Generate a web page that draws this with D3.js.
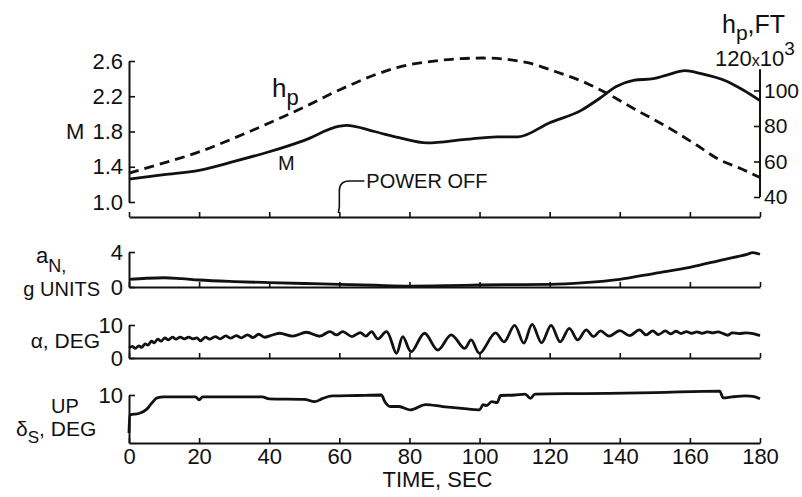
<!DOCTYPE html>
<html>
<head>
<meta charset="utf-8">
<script src="https://cdn.jsdelivr.net/npm/d3@7"></script>
<style>
  body { margin: 0; background: #fff; }
  text { font-family: "Liberation Sans", Arial, sans-serif; fill: #111; }
</style>
</head>
<body>
<div id="chart"></div>
<script>
// time axis, sec
const timeTicks = [0, 20, 40, 60, 80, 100, 120, 140, 160, 180];
const machTicks = [1.0, 1.4, 1.8, 2.2, 2.6];
const altTicks = [40, 60, 80, 100];

// [time, value]
const machData = [[0,1.26],[10,1.31],[20,1.36],[30,1.46],[40,1.57],[50,1.70],[60,1.86],[62,1.87],
  [70,1.80],[77,1.73],[85,1.67],[96,1.71],[105,1.74],[111,1.74],[120,1.90],[129,2.04],[134.4,2.18],
  [139,2.31],[143.9,2.38],[149.6,2.40],[153.4,2.44],[158.6,2.49],[162.9,2.46],[170.5,2.37],
  [175.2,2.27],[180,2.15]];

// hp, thousands of ft
const altData = [[0,53.5],[10,59.2],[20,65.4],[30,73.2],[40,81.7],[50,90.7],[60,100.3],[70,108.7],
  [77,113.2],[87,116.6],[101,118.3],[114,115.5],[122,110.4],[131,103.7],[136.3,98.4],[143.8,90.0],
  [153.4,79.6],[161.9,69.3],[168.6,60.8],[174.3,56.2],[180,51.0]];

const normalAccData = [[0,0.88],[5,1.0],[10,1.06],[15,0.95],[20,0.8],[30,0.62],[40,0.5],[50,0.4],
  [60,0.3],[70,0.2],[80,0.11],[90,0.15],[100,0.23],[110,0.27],[120,0.3],[130,0.5],[140,0.88],
  [150,1.57],[160,2.25],[170,3.17],[176,3.7],[178,3.92],[180,3.74]];

const alphaData = [[0,3.0],[1,3.5],[1.8,2.9],[2.8,3.7],[3.6,3.2],[4.6,4.3],[5.4,3.9],[6.4,5.1],[7.2,4.6],
  [8.2,5.7],[9.2,5.1],[10.2,6.1],[11.2,5.5],[12.4,6.3],[13.4,5.7],[14.6,6.3],[15.8,5.8],[17,6.3],
  [18.2,5.8],[19.4,6.1],[20.4,5.2],[21.8,6.3],[23,5.7],[24.6,6.5],[26,5.8],[27.6,6.7],[29,6.0],
  [30.6,6.8],[32,6.1],[33.8,7.0],[35.4,6.2],[37,7.2],[38.6,6.3],[40.4,6.8],[43,7.5],[46.7,6.6],
  [50.6,7.8],[54.4,6.6],[57.3,8.0],[59.2,7.0],[61,8.0],[63.6,6.5],[66,7.7],[67.6,6.6],[69.2,8.0],
  [71,5.8],[73.5,8.0],[76.3,1.4],[78.1,6.5],[80.5,1.9],[84.3,7.5],[88.1,2.4],[91.9,7.0],[95.7,2.9],
  [97.6,5.5],[100,1.4],[104.5,7.6],[107,4.9],[110,9.9],[112.6,4.5],[115,10.2],[117.7,4.6],
  [120.4,9.9],[123,4.9],[125.6,9.0],[128,5.5],[130.4,8.5],[132.5,6.5],[134.5,8.2],[137,6.6],
  [140,8.3],[142.8,6.8],[145.6,8.5],[147.5,7.0],[149.4,8.2],[151,7.1],[153,8.2],[154.5,7.3],
  [156,8.1],[157.5,7.4],[159,8.0],[160.5,7.5],[162,7.9],[163.5,7.5],[165,7.9],[166.5,7.6],
  [168,7.9],[169.5,7.4],[170.8,6.9],[172,7.6],[174,7.4],[176,7.6],[178,7.4],[180,6.8]];

const stabData = [[0,2.1],[0.2,5.9],[1.5,6.0],[3,6.2],[5,7.0],[6.5,8.3],[8,9.4],[10,9.6],[19,9.6],
  [20,9.0],[21,9.6],[38,9.6],[40,9.2],[50,9.1],[53,8.6],[55,9.2],[58,9.8],[65,9.9],[72,10.0],
  [73,8.6],[74.5,7.6],[77,7.6],[80.3,6.9],[84.6,8.0],[89.5,7.6],[95,7.2],[100,6.9],[101,8.0],
  [102,7.8],[103.5,8.6],[105,8.4],[106,9.9],[110,10.0],[113,10.2],[114.5,9.3],[115.8,10.2],
  [130,10.3],[150,10.5],[168.5,10.8],[169.5,9.4],[172,9.6],[176,9.8],[178,9.7],[180,9.2]];

const w = 802, h = 497;
const svg = d3.select("#chart").append("svg").attr("width", w).attr("height", h);

const x = d3.scaleLinear().domain([0, 180]).range([129, 760]);

// y scales, one per strip
const yM = d3.scaleLinear().domain([1.0, 2.6]).range([202, 61]);
const yH = d3.scaleLinear().domain([40, 120]).range([197, 55]);
const yAn = d3.scaleLinear().domain([0, 4]).range([287, 252]);
const yAlpha = d3.scaleLinear().domain([0, 10]).range([358, 325]);
const yStab = d3.scaleLinear().domain([0, 10]).range([443, 395]);

function styleAxis(g, size) {
  g.attr("font-family", null).attr("font-size", null);
  g.select(".domain").attr("stroke", "#111").attr("stroke-width", 2);
  g.selectAll(".tick line").attr("stroke", "#111").attr("stroke-width", 1.6);
  g.selectAll(".tick text").attr("fill", "#111").style("font-size", size + "px");
}

function timeAxis(yPos, withLabels) {
  const ax = d3.axisBottom(x).tickValues(timeTicks).tickSizeInner(-5).tickSizeOuter(0)
    .tickPadding(withLabels ? 5 : 0);
  if (!withLabels) ax.tickFormat("");
  const g = svg.append("g").attr("transform", "translate(0," + yPos + ")").call(ax);
  styleAxis(g, 22);
}

function leftAxis(scale, ticks, fmt) {
  const ax = d3.axisLeft(scale).tickValues(ticks).tickSizeInner(-6).tickSizeOuter(0).tickPadding(6)
    .tickFormat(fmt);
  const g = svg.append("g").attr("transform", "translate(" + x(0) + ",0)").call(ax);
  styleAxis(g, 22);
}

function trace(data, scale, curve, dash) {
  const line = d3.line().x(d => x(d[0])).y(d => scale(d[1])).curve(curve);
  svg.append("path").datum(data).attr("d", line)
    .attr("fill", "none").attr("stroke", "#111").attr("stroke-width", 2.8)
    .attr("stroke-linejoin", "round")
    .attr("stroke-dasharray", dash || null);
}

// ---- top strip: M and hp
timeAxis(217, false);
leftAxis(yM, machTicks, d3.format(".1f"));

const rAx = d3.axisRight(yH).tickValues(altTicks).tickSizeInner(-6).tickSizeOuter(0).tickPadding(4);
const rg = svg.append("g").attr("transform", "translate(" + x(180) + ",0)").call(rAx);
styleAxis(rg, 21);
rg.select(".domain").remove();
rg.append("line").attr("y1", yH(40)).attr("y2", yH(112))
  .attr("stroke", "#111").attr("stroke-width", 2);

trace(altData, yH, d3.curveMonotoneX, "10,6");
trace(machData, yM, d3.curveMonotoneX);

// strip labels
svg.append("text").attr("x", 66).attr("y", yM(1.8)).attr("dy", "0.35em")
  .style("font-size", "22px").text("M");
svg.append("text").attr("x", 278).attr("y", 170).style("font-size", "20px").text("M");
const hpLab = svg.append("text").attr("x", 272).attr("y", 97).style("font-size", "26px");
hpLab.append("tspan").text("h");
hpLab.append("tspan").attr("dy", 8).style("font-size", "22px").text("p");

const hpTitle = svg.append("text").attr("x", 722).attr("y", 33).style("font-size", "25px");
hpTitle.append("tspan").text("h");
hpTitle.append("tspan").attr("dy", 7).style("font-size", "21px").text("p");
hpTitle.append("tspan").attr("dy", -7).text(",FT");

const unitLab = svg.append("text").attr("x", 715).attr("y", 66).style("font-size", "22px");
unitLab.append("tspan").text("120");
unitLab.append("tspan").style("font-size", "16px").text("x");
unitLab.append("tspan").text("10");
unitLab.append("tspan").attr("dy", -11).style("font-size", "19px").text("3");

// power off marker
const px = x(60);
svg.append("path")
  .attr("d", "M" + (px - 1) + ",213 L" + px + ",207 L" + px + ",191 Q" + px + ",181 " + (px + 10) + ",181 L" + (px + 25) + ",181")
  .attr("fill", "none").attr("stroke", "#111").attr("stroke-width", 1.6);
svg.append("text").attr("x", px + 27).attr("y", 181).attr("dy", "0.35em")
  .style("font-size", "20px").text("POWER OFF");

// ---- normal acceleration
timeAxis(287, false);
leftAxis(yAn, [0, 4], d3.format("d"));
trace(normalAccData, yAn, d3.curveMonotoneX);
const anLab = svg.append("text").attr("x", 36).attr("y", 263).style("font-size", "22px");
anLab.append("tspan").text("a");
anLab.append("tspan").attr("dy", 9).style("font-size", "18px").text("N,");
svg.append("text").attr("x", 100).attr("y", 296).attr("text-anchor", "end")
  .style("font-size", "20px").text("g UNITS");

// ---- angle of attack
timeAxis(358, false);
leftAxis(yAlpha, [0, 10], d3.format("d"));
trace(alphaData, yAlpha, d3.curveCatmullRom.alpha(0.5));
svg.append("text").attr("x", 100).attr("y", 348).attr("text-anchor", "end")
  .style("font-size", "21px").text("α, DEG");

// ---- stabilizer
timeAxis(443, true);
leftAxis(yStab, [10], d3.format("d"));
trace(stabData, yStab, d3.curveMonotoneX);
svg.append("text").attr("x", 65).attr("y", 413).attr("text-anchor", "middle")
  .style("font-size", "20px").text("UP");
const dsLab = svg.append("text").attr("x", 16).attr("y", 436).style("font-size", "21px");
dsLab.append("tspan").text("δ");
dsLab.append("tspan").attr("dy", 7).style("font-size", "17px").text("S");
dsLab.append("tspan").attr("dy", -7).text(", DEG");

svg.append("text").attr("x", x(88)).attr("y", 487).attr("text-anchor", "middle")
  .style("font-size", "22px").text("TIME, SEC");
</script>
</body>
</html>
